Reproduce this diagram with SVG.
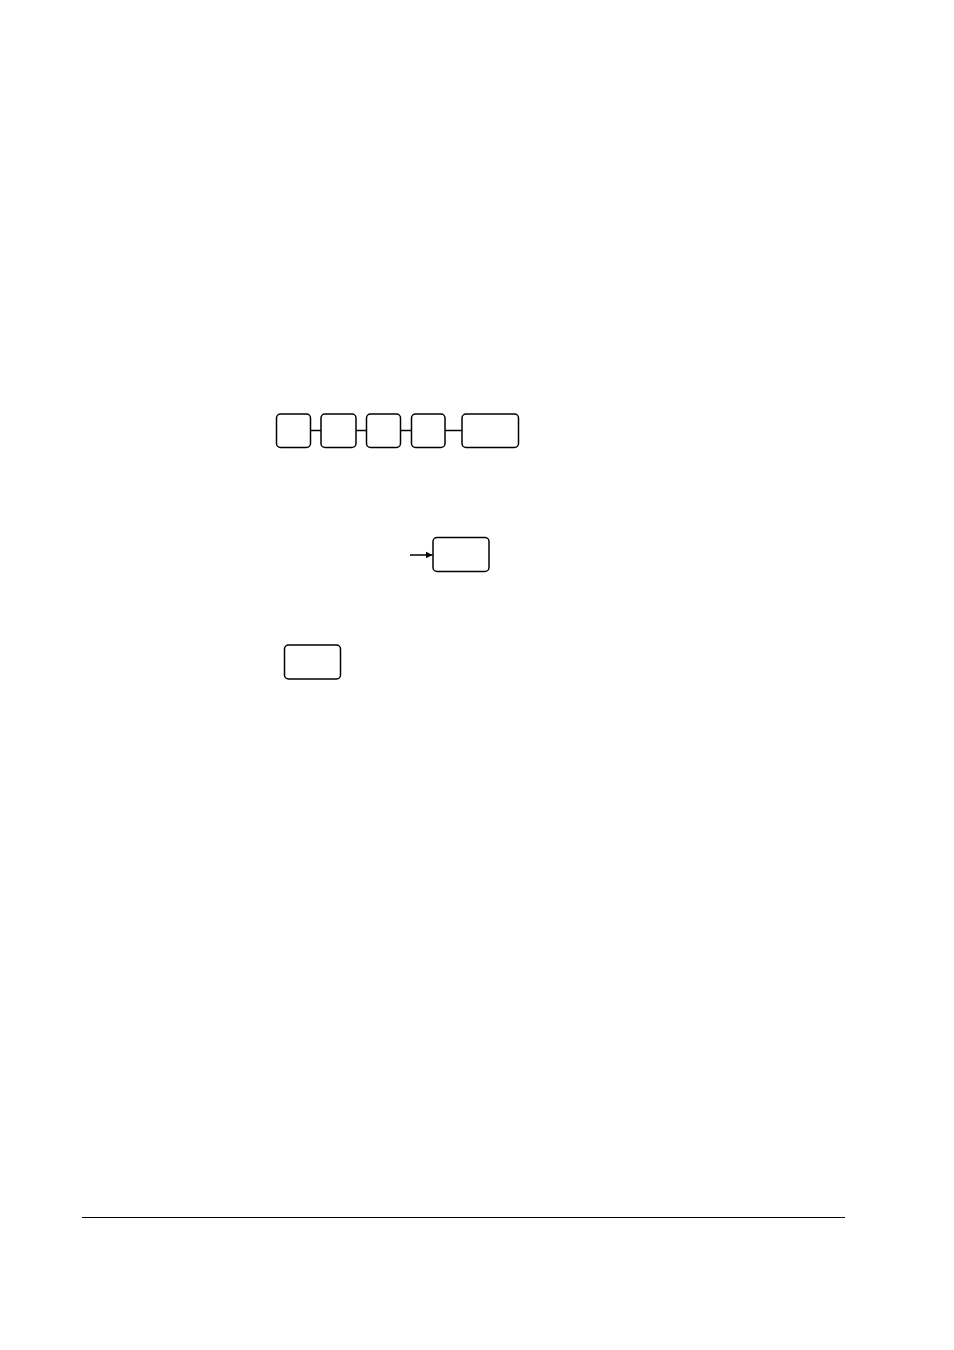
<svg xmlns="http://www.w3.org/2000/svg" width="954" height="1350" viewBox="0 0 954 1350">
<style>
.key{fill:#fff;stroke:#000;stroke-width:1.5}
.ln{stroke:#000;stroke-width:1.5;fill:none}
</style>
<defs>
<marker id="ah" markerWidth="8" markerHeight="8" refX="7" refY="4" orient="auto" markerUnits="userSpaceOnUse">
<path d="M0,0.5 L7,4 L0,7.5 Z" fill="#000"/>
</marker>
</defs>
<rect width="954" height="1350" fill="#fff"/>
<g id="connectors">
<line class="ln" x1="310.5" y1="430.5" x2="321" y2="430.5"/>
<line class="ln" x1="356" y1="430.5" x2="366.5" y2="430.5"/>
<line class="ln" x1="400.5" y1="430.5" x2="411.5" y2="430.5"/>
<line class="ln" x1="445" y1="430.5" x2="462" y2="430.5"/>
<line class="ln" x1="410" y1="555" x2="432.5" y2="555" marker-end="url(#ah)"/>
</g>
<g id="key1"><rect class="key" x="276.5" y="414" width="34" height="33.5" rx="4"/></g>
<g id="key2"><rect class="key" x="321" y="414" width="35" height="33.5" rx="4"/></g>
<g id="key3"><rect class="key" x="366.5" y="414" width="34" height="33.5" rx="4"/></g>
<g id="key4"><rect class="key" x="411.5" y="414" width="33.5" height="33.5" rx="4"/></g>
<g id="key5"><rect class="key" x="462" y="414" width="56.5" height="33.5" rx="4"/></g>
<g id="key6"><rect class="key" x="433" y="537.5" width="56" height="34" rx="4"/></g>
<g id="key7"><rect class="key" x="284.5" y="645" width="56" height="34" rx="4"/></g>
<line x1="82" y1="1217.5" x2="845" y2="1217.5" stroke="#000" stroke-width="1.2"/>
</svg>
